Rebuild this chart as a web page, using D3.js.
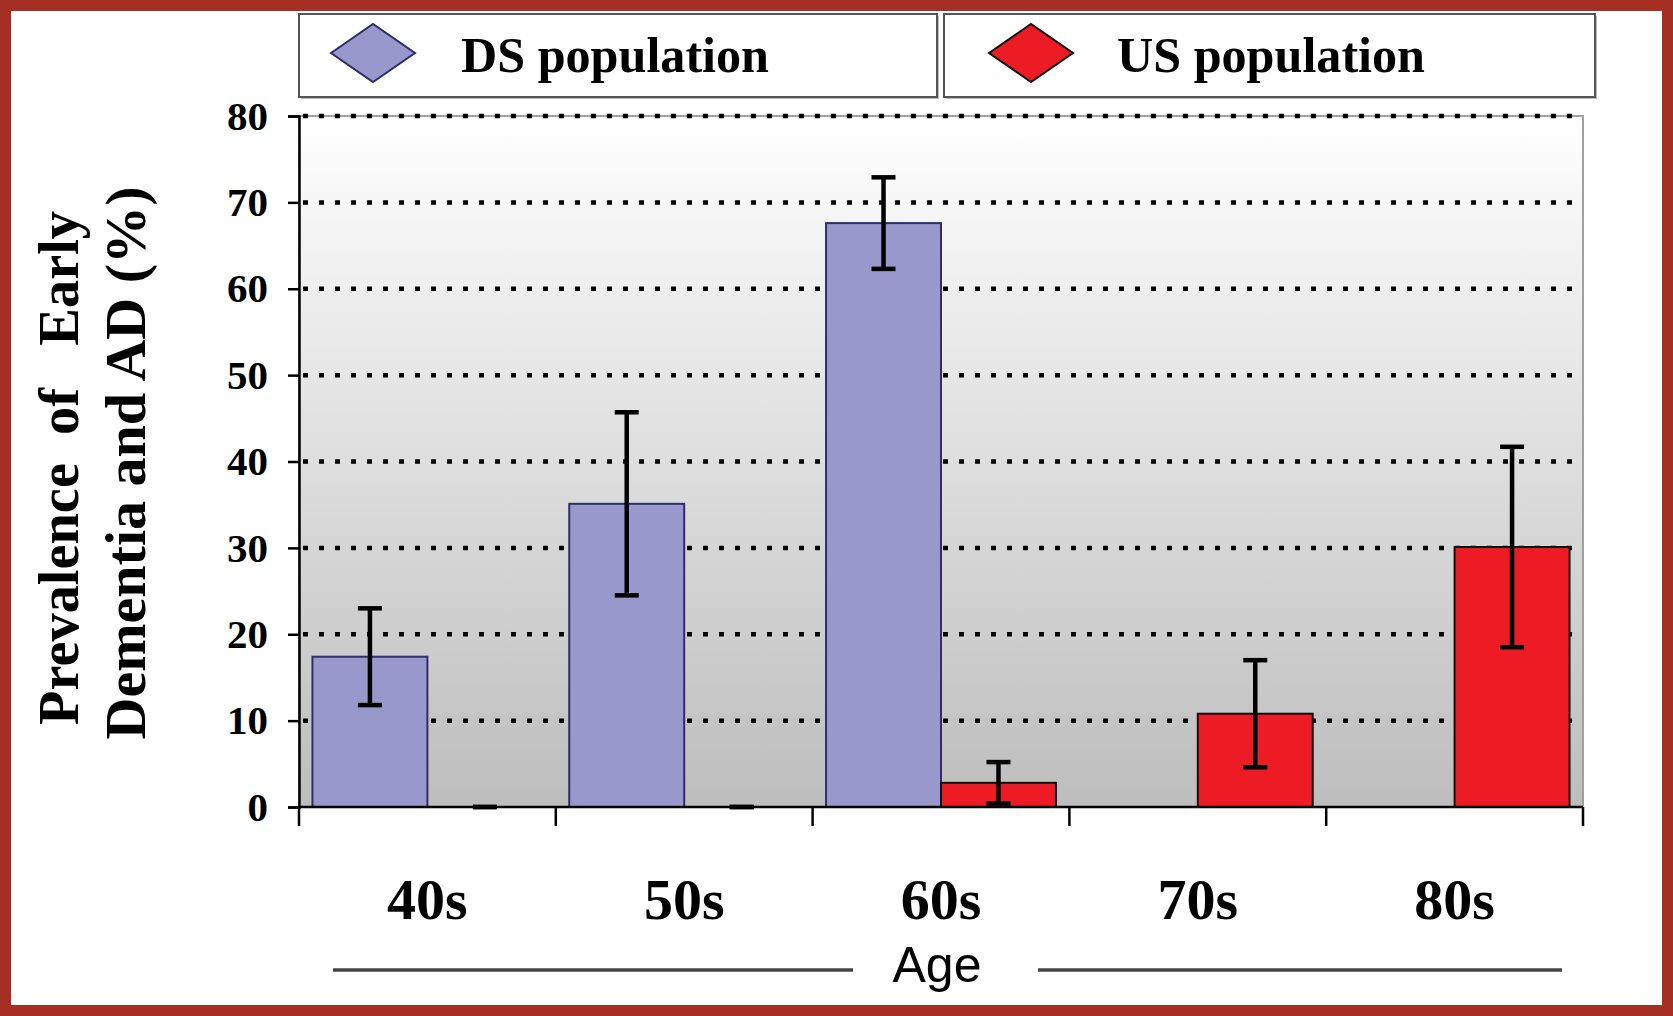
<!DOCTYPE html>
<html><head><meta charset="utf-8">
<script src="https://cdn.jsdelivr.net/npm/d3@7"></script>
<style>html,body{margin:0;padding:0;background:#fff;overflow:hidden}</style>
</head><body>
<svg id="chart" width="1673" height="1016"></svg>
<script>
const categories = ["40s", "50s", "60s", "70s", "80s"];
const seriesNames = ["DS population", "US population"];
const dsValues = [17.4, 35.1, 67.6, null, null];
const dsErrors = [5.6, 10.6, 5.3, null, null];
const usValues = [0, 0, 2.8, 10.8, 30.1];
const usErrors = [0, 0, 2.4, 6.2, 11.6];
const yTicks = [0, 10, 20, 30, 40, 50, 60, 70, 80];

const svg = d3.select("#chart");
const W = 1673, H = 1016;
const M = {left: 299, right: 1583, top: 116, bottom: 807};
const serif = "'Liberation Serif','Times New Roman',serif";
const sans = "'Liberation Sans',Arial,sans-serif";
const colors = {"DS population": "#9898cc", "US population": "#ed1c24"};
const strokes = {"DS population": "#2e2e6a", "US population": "#111"};

const defs = svg.append("defs");
const g1 = defs.append("linearGradient").attr("id", "bg").attr("x1", 0).attr("y1", 0).attr("x2", 0).attr("y2", 1);
g1.append("stop").attr("offset", "0%").attr("stop-color", "#ffffff");
g1.append("stop").attr("offset", "100%").attr("stop-color", "#bdbdbd");

svg.append("rect").attr("x", 0).attr("y", 0).attr("width", W).attr("height", H).attr("fill", "#fff");

const x0 = d3.scaleBand().domain(categories).range([M.left, M.right]).paddingInner(0).paddingOuter(0);
const x1 = d3.scaleBand().domain(seriesNames).range([0, x0.bandwidth()]).paddingInner(0).paddingOuter(0.117);
const y = d3.scaleLinear().domain([0, 80]).range([M.bottom, M.top]);

svg.append("rect").attr("x", M.left).attr("y", M.top).attr("width", M.right - M.left).attr("height", M.bottom - M.top)
  .attr("fill", "url(#bg)").attr("stroke", "#a0a0a0").attr("stroke-width", 2);

svg.append("g").selectAll("line").data(yTicks.filter(d => d > 0)).join("line")
  .attr("x1", M.left + 4).attr("x2", M.right - 4)
  .attr("y1", d => y(d)).attr("y2", d => y(d))
  .attr("stroke", "#000").attr("stroke-width", 4.5).attr("stroke-dasharray", "5,11");

const rows = [];
categories.forEach((c, i) => {
  rows.push({cat: c, s: "DS population", v: dsValues[i], e: dsErrors[i]});
  rows.push({cat: c, s: "US population", v: usValues[i], e: usErrors[i]});
});
const valid = rows.filter(r => r.v !== null);

svg.append("g").selectAll("rect").data(valid.filter(r => r.v > 0)).join("rect")
  .attr("x", r => x0(r.cat) + x1(r.s))
  .attr("width", x1.bandwidth())
  .attr("y", r => y(r.v))
  .attr("height", r => y(0) - y(r.v))
  .attr("fill", r => colors[r.s])
  .attr("stroke", r => strokes[r.s]).attr("stroke-width", 2);

const eb = svg.append("g").attr("stroke", "#000").attr("stroke-width", 4.5).attr("fill", "none");
valid.forEach(r => {
  const cx = x0(r.cat) + x1(r.s) + x1.bandwidth() / 2;
  const top = y(r.v + r.e), bot = y(Math.max(0, r.v - r.e));
  if (r.e > 0) eb.append("line").attr("x1", cx).attr("x2", cx).attr("y1", top).attr("y2", bot);
  eb.append("line").attr("x1", cx - 12).attr("x2", cx + 12).attr("y1", top).attr("y2", top);
  eb.append("line").attr("x1", cx - 12).attr("x2", cx + 12).attr("y1", bot).attr("y2", bot);
});

const yAxis = svg.append("g").attr("transform", `translate(${M.left},0)`)
  .call(d3.axisLeft(y).tickValues(yTicks).tickSize(11).tickPadding(20).tickFormat(d3.format("d")));
yAxis.select(".domain").attr("stroke", "#000").attr("stroke-width", 2.5);
yAxis.selectAll(".tick line").attr("stroke", "#000").attr("stroke-width", 2.5);
yAxis.selectAll(".tick text").attr("font-family", serif).attr("font-weight", "bold").attr("font-size", 41).attr("fill", "#000");

svg.append("line").attr("x1", M.left).attr("x2", M.right).attr("y1", M.bottom).attr("y2", M.bottom)
  .attr("stroke", "#000").attr("stroke-width", 2.5);
const bounds = categories.map(c => x0(c)).concat([x0(categories[categories.length - 1]) + x0.bandwidth()]);
svg.append("g").selectAll("line").data(bounds).join("line")
  .attr("x1", d => d).attr("x2", d => d).attr("y1", M.bottom).attr("y2", M.bottom + 19)
  .attr("stroke", "#000").attr("stroke-width", 2.5);

svg.append("g").selectAll("text").data(categories).join("text")
  .attr("x", c => x0(c) + x0.bandwidth() / 2).attr("y", 919)
  .attr("text-anchor", "middle").attr("font-family", serif).attr("font-weight", "bold")
  .attr("font-size", 58).attr("fill", "#000").text(c => c);

const cxAll = (M.left + M.right) / 2;
svg.append("text").attr("x", cxAll - 4).attr("y", 982).attr("text-anchor", "middle")
  .attr("font-family", sans).attr("font-size", 50).attr("fill", "#000").text("Age");
svg.append("line").attr("x1", 333).attr("x2", 853).attr("y1", 970).attr("y2", 970).attr("stroke", "#444").attr("stroke-width", 3.5);
svg.append("line").attr("x1", 1038).attr("x2", 1562).attr("y1", 970).attr("y2", 970).attr("stroke", "#444").attr("stroke-width", 3.5);

const yt = svg.append("g").attr("font-family", serif).attr("font-weight", "bold").attr("font-size", 58).attr("fill", "#000");
yt.append("text").attr("transform", "translate(78,468) rotate(-90)").attr("text-anchor", "middle")
  .style("white-space", "pre").attr("textLength", 514).attr("lengthAdjust", "spacingAndGlyphs")
  .text("Prevalence  of   Early");
yt.append("text").attr("transform", "translate(145,463) rotate(-90)").attr("text-anchor", "middle")
  .attr("textLength", 553).attr("lengthAdjust", "spacingAndGlyphs")
  .text("Dementia and AD (%)");

const legendBoxes = [
  {name: seriesNames[0], x: 299, w: 638, dx: 373, tx: 461},
  {name: seriesNames[1], x: 944, w: 651, dx: 1031, tx: 1117}
];
const lg = svg.append("g");
legendBoxes.forEach(b => {
  lg.append("rect").attr("x", b.x + 2).attr("y", 16).attr("width", b.w).attr("height", 83).attr("fill", "#bbb");
  lg.append("rect").attr("x", b.x).attr("y", 14).attr("width", b.w).attr("height", 83)
    .attr("fill", "#fff").attr("stroke", "#555").attr("stroke-width", 2);
  lg.append("path").attr("d", `M${b.dx - 42},53 L${b.dx},24 L${b.dx + 42},53 L${b.dx},82 Z`)
    .attr("fill", colors[b.name]).attr("stroke", strokes[b.name]).attr("stroke-width", 2);
  lg.append("text").attr("x", b.tx).attr("y", 72).attr("font-family", serif).attr("font-weight", "bold")
    .attr("font-size", 50).attr("textLength", 308).attr("lengthAdjust", "spacingAndGlyphs")
    .attr("fill", "#000").text(b.name);
});

svg.append("rect").attr("x", 5.5).attr("y", 5.5).attr("width", W - 11).attr("height", H - 11)
  .attr("fill", "none").attr("stroke", "#a52f22").attr("stroke-width", 11);
</script>
</body></html>
